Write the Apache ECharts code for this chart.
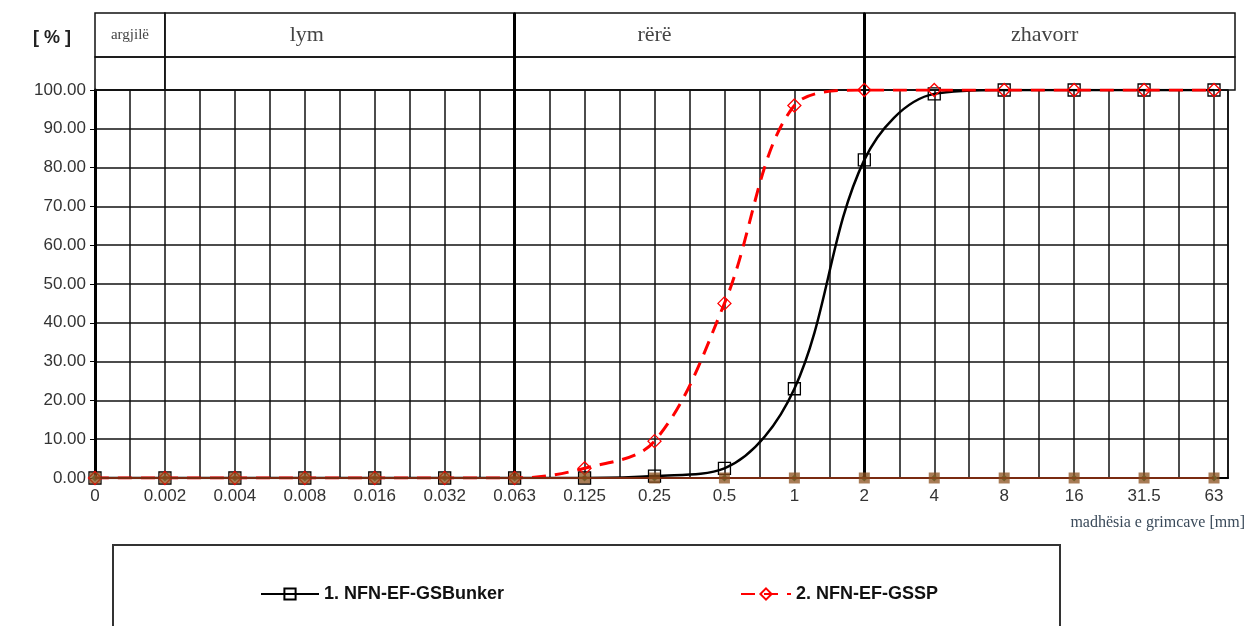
<!DOCTYPE html>
<html><head><meta charset="utf-8">
<script src="https://cdn.jsdelivr.net/npm/echarts@6/dist/echarts.min.js"></script>
<style>html,body{margin:0;padding:0;background:#fff}#c{width:1255px;height:626px}</style>
</head><body><div id="c"></div>
<script>
const categories = ['0','0.002','0.004','0.008','0.016','0.032','0.063','0.125','0.25','0.5','1','2','4','8','16','31.5','63'];
const bunker = [0,0,0,0,0,0,0,0,0.5,2.5,23,82,99,100,100,100,100];
const gssp   = [0,0,0,0,0,0,0,2.5,9.5,45,96,100,100,100,100,100,100];
const zeroA  = [0,0,0,0,0,0,0,0,0,0,0,0,0,0,0,0,0];
const zeroB  = [0,0,0,0,0,0,0,0,0,0,0,0,0,0,0,0,0];
const zoneNames = ['argjilë','lym','rërë','zhavorr'];
const zoneBounds = [0,1,6,11,16.3];
const legendNames = ['1. NFN-EF-GSBunker','2. NFN-EF-GSSP'];

// styling only
const zoneLabelSize = [15,22,22,22];
const zoneLabelOffset = [0,-33,-35,-5];

const pts = arr => arr.map((v,i)=>[i,v]);
const serif = '"Liberation Serif","DejaVu Serif",serif';
const sans = '"Liberation Sans",Arial,sans-serif';

const headerAreas = [];
zoneNames.forEach((n,i)=>{
  headerAreas.push([{xAxis:zoneBounds[i],yAxis:0.43,name:n,label:{fontSize:zoneLabelSize[i],offset:[zoneLabelOffset[i],0]}},{xAxis:zoneBounds[i+1],yAxis:1}]);
  headerAreas.push([{xAxis:zoneBounds[i],yAxis:0,name:''},{xAxis:zoneBounds[i+1],yAxis:0.43}]);
});

const legendText = {fontSize:18,fontWeight:'bold',fontFamily:sans,color:'#111'};

const chart = echarts.init(document.getElementById('c'));
chart.setOption({
  animation:false,
  grid:[
    {left:95,right:27,top:90,bottom:148,show:true,borderColor:'#000',borderWidth:1.5},
    {left:95,right:20,top:13,height:77}
  ],
  xAxis:[
    {type:'value',min:0,max:16.2,interval:0.5,gridIndex:0,
     axisLine:{show:true,lineStyle:{color:'#000',width:2}},
     axisTick:{show:false},
     splitLine:{show:true,lineStyle:{color:'#111',width:1.5}},
     axisLabel:{color:'#333',fontSize:17,fontFamily:sans,margin:10,showMaxLabel:false,
       formatter:v=> (Number.isInteger(v) && categories[v]!==undefined) ? categories[v] : ''}},
    {type:'value',min:0,max:16.3,gridIndex:1,show:false}
  ],
  yAxis:[
    {type:'value',min:0,max:100,interval:10,gridIndex:0,
     axisLine:{show:true,lineStyle:{color:'#000',width:3}},
     axisTick:{show:true,length:5,lineStyle:{color:'#000'}},
     splitLine:{show:true,lineStyle:{color:'#111',width:1.5}},
     axisLabel:{color:'#333',fontSize:17,fontFamily:sans,margin:9,formatter:v=>v.toFixed(2)}},
    {type:'value',min:0,max:1,gridIndex:1,show:false}
  ],
  legend:[
    {data:[legendNames[0]],left:255,top:580,itemWidth:58,itemHeight:14,textStyle:legendText},
    {data:[legendNames[1]],left:735,top:580,itemWidth:50,itemHeight:14,textStyle:legendText}
  ],
  graphic:[
    {type:'rect',shape:{x:113,y:545,width:947,height:120},style:{fill:'none',stroke:'#333',lineWidth:2},silent:true},
    {type:'text',left:33,top:29,style:{text:'[ % ]',font:'bold 18px '+sans,fill:'#222'}},
    {type:'text',right:10,top:515,style:{text:'madhësia e grimcave [mm]',font:'16px '+serif,fill:'#3a4a5a'}}
  ],
  series:[
    {name:'header',type:'line',xAxisIndex:1,yAxisIndex:1,data:[],silent:true,
     markArea:{silent:true,itemStyle:{color:'rgba(0,0,0,0)',borderColor:'#111',borderWidth:1.5},
       label:{show:true,position:'inside',color:'#444',fontFamily:serif},
       data:headerAreas},
     markLine:{silent:true,symbol:'none',label:{show:false},lineStyle:{color:'#000',width:3,type:'solid'},
       data:[{xAxis:6},{xAxis:11}]}
    },
    {name:'3.',type:'line',data:pts(zeroB),symbol:'diamond',symbolSize:7,
     lineStyle:{color:'#2a3fc0',width:2,type:[8,5]},itemStyle:{color:'#2e8b57'},z:3},
    {name:legendNames[0],type:'line',data:pts(bunker),smooth:0.35,
     symbol:'rect',symbolSize:12,
     lineStyle:{color:'#000',width:2.5},
     itemStyle:{color:'rgba(0,0,0,0)',borderColor:'#000',borderWidth:1.3},
     markLine:{silent:true,symbol:'none',label:{show:false},lineStyle:{color:'#000',width:3,type:'solid'},
       data:[{xAxis:6},{xAxis:11}]},z:4},
    {name:legendNames[1],type:'line',data:pts(gssp),smooth:0.35,
     symbol:'diamond',symbolSize:13,
     lineStyle:{color:'#ff0000',width:3,type:[14,9]},
     itemStyle:{color:'rgba(0,0,0,0)',borderColor:'#ff0000',borderWidth:1.3},z:5},
    {name:'4.',type:'line',data:pts(zeroA),symbol:'rect',symbolSize:11,
     lineStyle:{color:'#7a2a10',width:2},itemStyle:{color:'rgba(139,80,30,0.75)'},z:6}
  ]
});
</script></body></html>
